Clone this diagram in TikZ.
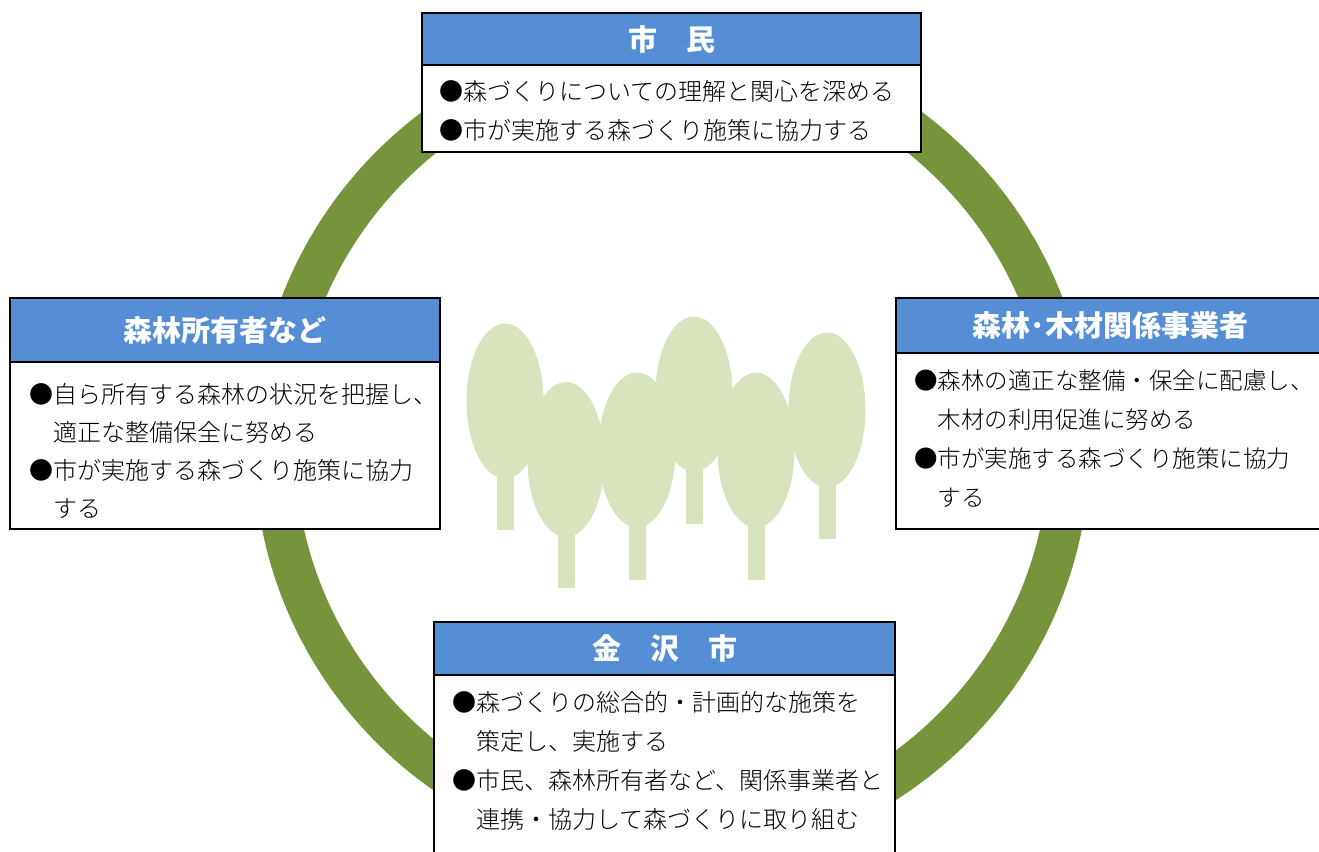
\documentclass[tikz,border=0pt]{standalone}
\usepackage{fontspec}
\usetikzlibrary{positioning}

\newfontfamily\cjk{Noto Sans CJK JP}
\IfFontExistsTF{Noto Sans CJK JP Light}
  {\newfontfamily\cjkbody{Noto Sans CJK JP Light}}
  {\newfontfamily\cjkbody{Noto Sans CJK JP}}

\definecolor{headblue}{HTML}{558ED5}
\definecolor{ringgreen}{HTML}{77933C}
\definecolor{treegreen}{HTML}{D7E4BD}

\tikzset{
  headbox/.style={draw=black, line width=1.6pt, fill=headblue, text=white,
    font=\cjk\bfseries\fontsize{29}{29}\selectfont,
    anchor=north west, inner sep=0pt, outer sep=0pt},
  bodybox/.style={draw=black, line width=1.6pt, fill=white,
    inner sep=0pt, outer sep=0pt},
  bodytext/.style={anchor=north west, inner sep=0pt, align=left,
    font=\cjkbody\fontsize{24}{39}\selectfont},
}

\begin{document}
\begin{tikzpicture}[x=1pt, y=-1pt]
    \useasboundingbox (0,0) rectangle (1319,851);

    % Ring around the forest
    \draw[ringgreen, line width=41pt] (672,447) circle (397.5pt);

    % Trees: trunk, then crown
    \foreach \cx/\cy/\bot in {505/401/530, 566/459.5/588, 637/450/580,
                              694/394/524, 756/450/580, 827/410/539}{
        \fill[treegreen] (\cx-8.5,\cy) rectangle (\cx+8.5,\bot);
        \fill[treegreen] (\cx,\cy) ellipse [x radius=38.5pt, y radius=77.5pt];
    }

    % 市民 (top)
    \node[headbox, minimum width=499pt, minimum height=52pt] (shimin-head) at (422,13) {市　民};
    \node[bodybox, minimum width=499pt, minimum height=87pt, below=0pt of shimin-head] (shimin-body) {};
    \node[bodytext, below right=15pt and 17pt of shimin-body.north west] (shimin-text) {
        ●森づくりについての理解と関心を深める\\
        ●市が実施する森づくり施策に協力する
    };

    % 森林所有者など (left)
    \node[headbox, minimum width=430pt, minimum height=64pt] (shoyusha-head) at (10,298) {森林所有者など};
    \node[bodybox, minimum width=430pt, minimum height=167pt, below=0pt of shoyusha-head] (shoyusha-body) {};
    \node[bodytext, font=\cjkbody\fontsize{24}{38}\selectfont,
          below right=21pt and 19pt of shoyusha-body.north west] (shoyusha-text) {
        ●自ら所有する森林の状況を把握し、\\
        \hspace*{1em}適正な整備保全に努める\\
        ●市が実施する森づくり施策に協力\\
        \hspace*{1em}する
    };

    % 森林･木材関係事業者 (right)
    \node[headbox, minimum width=429pt, minimum height=55pt] (jigyosha-head) at (896,298) {森林･木材関係事業者};
    \node[bodybox, minimum width=429pt, minimum height=176pt, below=0pt of jigyosha-head] (jigyosha-body) {};
    \node[bodytext, font=\cjkbody\fontsize{23.5}{39}\selectfont,
          below right=17pt and 18pt of jigyosha-body.north west] (jigyosha-text) {
        ●森林の適正な整備・保全に配慮し、\\
        \hspace*{1em}木材の利用促進に努める\\
        ●市が実施する森づくり施策に協力\\
        \hspace*{1em}する
    };

    % 金沢市 (bottom)
    \node[headbox, minimum width=461pt, minimum height=53pt] (kanazawa-head) at (434,622) {金　沢　市};
    \node[bodybox, minimum width=461pt, minimum height=183pt, below=0pt of kanazawa-head] (kanazawa-body) {};
    \node[bodytext, below right=16pt and 18pt of kanazawa-body.north west] (kanazawa-text) {
        ●森づくりの総合的・計画的な施策を\\
        \hspace*{1em}策定し、実施する\\
        ●市民、森林所有者など、関係事業者と\\
        \hspace*{1em}連携・協力して森づくりに取り組む
    };
\end{tikzpicture}
\end{document}
